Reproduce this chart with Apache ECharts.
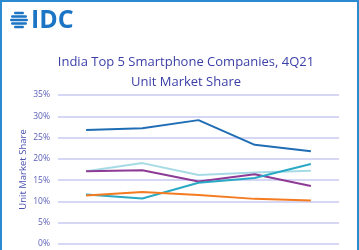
<!DOCTYPE html>
<html>
<head>
<meta charset="utf-8">
<script src="https://cdn.jsdelivr.net/npm/echarts@6/dist/echarts.min.js"></script>
<style>
  html, body { margin: 0; padding: 0; background: #fff; }
  #frame {
    position: absolute; left: 0; top: 0; width: 355px; height: 250px;
    border-left: 2px solid #2b8bd1; border-top: 2px solid #2b8bd1; border-right: 2px solid #2b8bd1;
  }
  #chart { position: absolute; left: 0; top: 0; width: 359px; height: 250px; }
</style>
</head>
<body>
<div id="frame"></div>
<div id="chart"></div>
<script>
// quarters (no visible labels in the picture)
const quarters = ["4Q20", "1Q21", "2Q21", "3Q21", "4Q21"];
const yTicks = [0, 5, 10, 15, 20, 25, 30, 35];

const seriesDarkBlue = [26.8, 27.2, 29.1, 23.3, 21.8];
const seriesLightBlue = [17.1, 19.0, 16.2, 16.8, 17.2];
const seriesPurple = [17.1, 17.3, 14.7, 16.4, 13.6];
const seriesTeal = [11.6, 10.7, 14.4, 15.5, 18.8];
const seriesOrange = [11.4, 12.2, 11.5, 10.6, 10.2];

let myChart = echarts.init(document.getElementById("chart"));

function line(data, color, z) {
  return {
    type: "line",
    data: data,
    symbol: "none",
    z: z,
    lineStyle: { color: color, width: 2 },
  };
}

// globe stripes for the logo
let stripes = [];
const gy = [13, 16.5, 20, 23.5, 27];
const gw = [10, 16, 18, 16, 10];
for (let i = 0; i < gy.length; i++) {
  stripes.push({
    type: "rect",
    shape: { x: 19 - gw[i] / 2, y: gy[i] - 1.2, width: gw[i], height: 2.4, r: 1.2 },
    style: { fill: "#1b75c4" },
  });
}

myChart.setOption({
  animation: false,
  title: {
    text: "India Top 5 Smartphone Companies, 4Q21\nUnit Market Share",
    left: 181,
    top: 47,
    textAlign: "center",
    textStyle: {
      fontFamily: "Open Sans",
      fontSize: 13,
      fontWeight: "normal",
      color: "#3b3fa6",
      lineHeight: 20,
    },
  },
  graphic: stripes.concat([
    {
      type: "text",
      left: 31,
      top: 8,
      style: {
        text: "IDC",
        fontFamily: "Open Sans",
        fontWeight: "bold",
        fontSize: 25,
        fill: "#1b75c4",
      },
    },
  ]),
  grid: { left: 58, right: 20, top: 95, bottom: 6 },
  xAxis: {
    type: "category",
    data: quarters,
    axisLine: { show: false },
    axisTick: { show: false },
    axisLabel: { show: false },
  },
  yAxis: {
    type: "value",
    min: yTicks[0],
    max: yTicks[yTicks.length - 1],
    interval: 5,
    name: "Unit Market Share",
    nameLocation: "middle",
    nameGap: 30,
    nameMoveOverlap: false,
    nameTextStyle: { fontFamily: "Open Sans", fontSize: 9.5, color: "#4a4fb0" },
    axisLabel: {
      formatter: "{value}%",
      fontFamily: "Open Sans",
      fontSize: 8.5,
      color: "#5a5eb8",
      margin: 8,
    },
    splitLine: { lineStyle: { color: "#c9c9f2", width: 1.5 } },
  },
  series: [
    line(seriesDarkBlue, "#1f6db5", 5),
    line(seriesLightBlue, "#a6dbe6", 2),
    line(seriesPurple, "#8e3b96", 3),
    line(seriesTeal, "#2aa9c4", 4),
    line(seriesOrange, "#f47b20", 6),
  ],
});
</script>
</body>
</html>
